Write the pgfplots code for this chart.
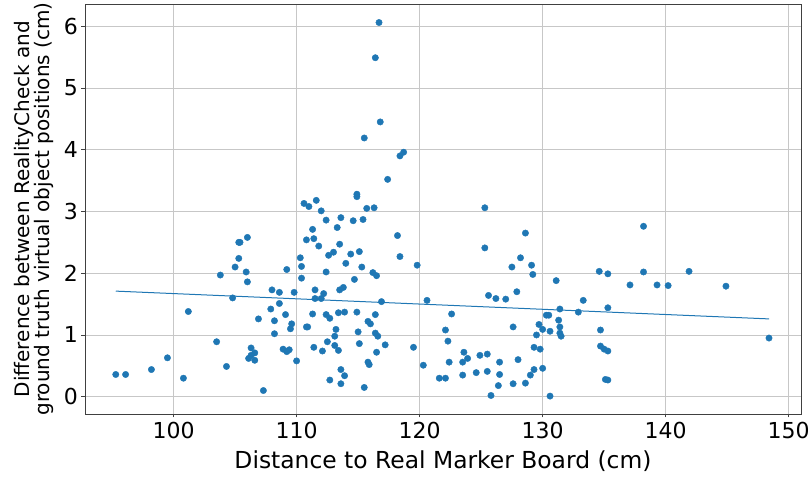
\documentclass[border=0pt]{standalone}
\usepackage{pgfplots}
\pgfplotsset{compat=1.18}
\usepackage{fontspec}
\setmainfont{DejaVu Sans}
\definecolor{mplblue}{RGB}{31,119,180}
\begin{document}
\begin{tikzpicture}
\useasboundingbox (-85pt,-65pt) rectangle (727pt,414pt);
\begin{axis}[
 at={(0pt,0pt)}, anchor=south west,
 scale only axis, width=716pt, height=410pt,
 xmin=92.8, xmax=151.0, ymin=-0.28, ymax=6.36,
 xtick={100,110,...,150}, ytick={0,1,...,6},
 grid=major, major grid style={draw=black!22, line width=0.8pt},
 tick align=outside, tick pos=left, major tick length=3.5pt,
 axis line style={black!75, line width=0.8pt},
 tick style={black!75, line width=0.8pt},
 ticklabel style={font=\fontsize{22}{26}\selectfont},
 xticklabel style={yshift=-1pt},
 /pgf/number format/assume math mode=true,
 xlabel={Distance to Real Marker Board (cm)},
 xlabel style={font=\fontsize{23.4}{28}\selectfont, at={(axis description cs:0.5,-0.134)}, anchor=base, inner sep=0pt},
 ylabel={Difference between RealityCheck and\\ground truth virtual object positions (cm)},
 ylabel style={font=\fontsize{20}{19.5}\selectfont, align=center, at={(axis description cs:-0.0716,0.5)}, anchor=center, inner sep=0pt},
]
\addplot[only marks, mark=*, mark size=3.2pt, color=mplblue, mark options={draw=none, fill=mplblue}] table {
x y
95.3 0.36
96.1 0.36
98.2 0.44
99.5 0.63
100.8 0.30
101.2 1.38
103.5 0.89
103.8 1.97
104.3 0.49
104.8 1.60
105.0 2.10
105.3 2.24
105.3 2.50
105.4 2.50
105.9 2.02
106.0 2.58
106.0 1.86
106.1 0.62
106.3 0.67
106.3 0.79
106.6 0.71
106.6 0.59
106.9 1.26
107.3 0.10
107.9 1.42
108.0 1.73
108.2 1.23
108.2 1.02
108.6 1.69
108.6 1.51
108.9 0.77
109.1 1.33
109.2 0.73
109.4 0.76
109.2 2.06
109.5 1.10
109.6 1.18
109.8 1.69
110.0 0.58
110.3 2.25
110.4 2.11
110.4 1.92
110.6 3.13
110.8 2.54
110.8 1.13
110.9 1.13
111.0 3.08
111.3 2.71
111.3 1.34
111.4 2.56
111.4 0.80
111.5 1.73
111.5 1.59
111.6 3.18
111.8 2.44
112.0 3.01
112.0 1.59
112.1 0.74
112.2 1.67
112.4 2.86
112.4 2.02
112.4 1.33
112.5 0.89
112.6 2.29
112.7 1.27
112.7 0.27
113.0 2.34
113.1 0.98
113.1 0.83
113.2 1.09
113.3 2.74
113.4 1.36
113.4 0.75
113.5 2.47
113.5 1.73
113.6 2.90
113.6 0.44
113.6 0.21
113.8 1.77
113.9 1.37
113.9 0.34
114.0 2.16
114.4 2.31
114.6 2.85
114.7 1.90
114.9 3.24
114.9 3.28
114.9 1.37
115.0 1.05
115.1 2.35
115.1 0.86
115.3 2.10
115.4 2.87
115.5 4.19
115.5 0.15
115.7 3.05
115.8 1.22
115.8 0.56
115.9 0.52
116.0 1.18
116.2 2.01
116.3 3.06
116.4 5.49
116.4 1.33
116.4 1.03
116.5 1.96
116.5 0.72
116.6 0.98
116.7 6.06
116.8 4.45
116.9 1.54
117.2 0.84
117.4 3.52
118.2 2.61
118.4 2.27
118.4 3.90
118.7 3.96
119.5 0.80
119.8 2.13
120.3 0.51
120.6 1.56
121.6 0.30
122.1 0.30
122.1 1.08
122.3 0.90
122.4 0.56
122.6 1.34
123.5 0.35
123.5 0.56
123.6 0.72
123.9 0.62
124.6 0.39
124.9 0.67
125.3 3.06
125.3 2.41
125.5 0.69
125.5 0.41
125.6 1.64
125.8 0.02
126.2 1.59
126.4 0.18
126.5 0.56
126.5 0.36
127.0 1.58
127.5 2.10
127.6 1.13
127.6 0.21
127.9 1.70
128.0 0.60
128.2 2.25
128.6 2.65
128.6 0.22
129.0 0.35
129.1 2.13
129.2 1.98
129.3 0.44
129.3 0.80
129.5 1.00
129.7 1.17
129.8 0.77
130.0 1.09
130.0 0.46
130.3 1.32
130.5 1.32
130.6 1.06
130.6 0.01
131.1 1.88
131.3 1.24
131.4 1.42
131.4 1.13
131.4 1.03
131.5 0.98
132.9 1.37
133.3 1.56
134.6 2.03
134.7 1.08
134.7 0.82
135.0 0.77
135.3 1.99
135.3 1.44
135.3 0.74
135.1 0.28
135.3 0.27
137.1 1.81
138.2 2.76
138.2 2.02
139.3 1.81
140.2 1.80
141.9 2.03
144.9 1.79
148.4 0.95
};
\addplot[no marks, line width=1pt, color=mplblue] coordinates {(95.3,1.71) (148.4,1.26)};
\end{axis}
\end{tikzpicture}
\end{document}
